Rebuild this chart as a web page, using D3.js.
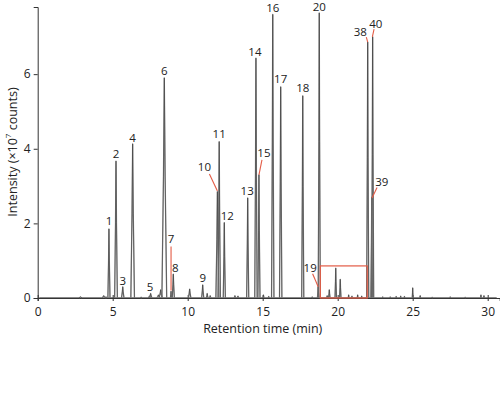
<!DOCTYPE html>
<html><head><meta charset="utf-8">
<script src="https://cdn.jsdelivr.net/npm/d3@7"></script>
<style>
html,body{margin:0;padding:0;background:#fff;}
svg{display:block;font-family:"Open Sans",sans-serif;}
</style></head>
<body>
<svg id="chart" width="500" height="402"></svg>
<script>
// ---- data ----
const peakTimes =   [2.85,4.40,4.55,4.75,5.22,5.67,6.33,6.90,7.45,7.53,8.05,8.20,8.44,8.89,9.04,10.13,11.00,11.30,11.50,11.98,12.10,12.44,13.15,13.35,14.00,14.55,14.75,15.05,15.40,15.67,16.20,17.67,18.30,18.70,18.77,19.30,19.44,19.87,20.17,20.73,20.95,21.33,21.60,22.00,22.27,22.33,23.00,23.50,23.90,24.20,24.45,25.00,25.50,26.30,27.50,28.50,29.55,29.75];
const peakHeights = [0.03,0.06,0.03,1.85,3.67,0.30,4.13,0.02,0.05,0.12,0.08,0.22,5.90,0.18,0.64,0.24,0.35,0.12,0.06,2.85,4.19,2.02,0.06,0.05,2.68,6.43,3.30,0.08,0.04,7.60,5.66,5.42,0.03,0.30,7.64,0.06,0.22,0.80,0.50,0.08,0.05,0.08,0.05,6.86,2.70,7.00,0.03,0.03,0.04,0.05,0.04,0.27,0.06,0.02,0.03,0.02,0.08,0.06];
const peakHalfWidths=[0.10,0.10,0.05,0.07,0.09,0.08,0.12,0.05,0.08,0.08,0.10,0.10,0.16,0.04,0.07,0.08,0.07,0.05,0.05,0.10,0.08,0.07,0.05,0.05,0.07,0.08,0.07,0.04,0.04,0.08,0.08,0.07,0.04,0.05,0.07,0.04,0.05,0.05,0.05,0.03,0.03,0.03,0.03,0.07,0.06,0.07,0.03,0.03,0.03,0.03,0.03,0.03,0.03,0.03,0.03,0.03,0.03,0.03];

// peak labels: number, anchor time, anchor intensity
const labelNumbers = ["1","2","3","4","5","6","7","8","9","10","11","12","13","14","15","16","17","18","19","20","38","40","39"];
const labelTimes   = [4.75,5.22,5.67,6.33,7.53,8.44,8.89,9.04,11.00,11.98,12.10,12.44,14.00,14.55,14.75,15.67,16.20,17.67,18.70,18.77,22.00,22.31,22.29];
const labelValues  = [1.85,3.67,0.30,4.13,0.12,5.90,0.20,0.64,0.35,2.87,4.19,2.02,2.68,6.43,3.30,7.60,5.66,5.42,0.30,7.64,6.86,7.00,2.68];
const leaderLabels = ["7","10","15","19","38","40","39"];

// highlighted region [tStart, tEnd, intensityTop]
const boxRange = [18.84, 21.97, 0.86];

const xTicks = [0,5,10,15,20,25,30];
const yTicks = [0,2,4,6];
const xTitle = "Retention time (min)";

// ---- layout ----
const svg = d3.select("#chart");
const x = d3.scaleLinear().domain([0, 30.8]).range([37.7, 499.7]);
const y = d3.scaleLinear().domain([0, 7.8]).range([298, 7]);
const red = "#e35b45";
const font = '"Open Sans", sans-serif';

// label offsets (px) relative to anchor: [labelDx, labelDy, lineStartDx, lineStartDy]
const layout = {
  "7":  [0, -52, 0, -44],
  "10": [-13, -24, -8, -17],
  "15": [5, -22, 3, -15],
  "19": [-8, -19, -5.6, -13],
  "38": [-7.4, -11, -1.4, -5],
  "40": [3.4, -13, 1.7, -7.7],
  "39": [9.7, -16.5, 5, -10.5],
  "3": [0,-6], "5":[-0.5,-7], "9":[0,-7], "8":[2,-7], "12":[3,-7.5], "13":[-0.5,-8], "14":[-1,-7],
  "4": [0,-6.5], "6":[0,-7], "16":[0,-7], "20":[0,-6]
};

// axes
const xAxis = d3.axisBottom(x).tickValues(xTicks).tickFormat(d3.format("d")).tickSize(3).tickPadding(6.5);
const gx = svg.append("g").attr("transform", `translate(0,${y(0)})`).call(xAxis);
gx.selectAll(".tick line").attr("y1", -3).attr("y2", 3);
const yAxis = d3.axisLeft(y).tickValues(yTicks).tickSize(4).tickPadding(3);
const gy = svg.append("g").attr("transform", `translate(${x(0)},0)`).call(yAxis);
[gx, gy].forEach(g => {
  g.select(".domain").attr("stroke", "#333").attr("stroke-width", 1);
  g.selectAll(".tick line").attr("stroke", "#333");
  g.selectAll(".tick text").attr("font-family", font).attr("font-size", 12).attr("fill", "#222");
});

// trace
const line = d3.line().x(d => x(d[0])).y(d => y(d[1]));
const traceG = svg.append("g");
traceG.append("path")
  .attr("d", line([[0.1, 0.01], [30.6, 0.01]]))
  .attr("fill", "none").attr("stroke", "#555").attr("stroke-width", 0.8);
peakTimes.forEach((t, i) => {
  const h = peakHeights[i], w = peakHalfWidths[i];
  const pts = [[t - w, 0.01], [t - w * 0.35, h * 0.55], [t, h], [t + w * 0.35, h * 0.55], [t + w, 0.01]];
  traceG.append("path").attr("d", line(pts))
    .attr("fill", "none").attr("stroke", "#8c8c8c").attr("stroke-width", 1.3).attr("stroke-linejoin", "round");
  traceG.append("path").attr("d", line(pts))
    .attr("fill", "none").attr("stroke", "#333").attr("stroke-width", 0.5).attr("stroke-linejoin", "round");
});

// highlight box
svg.append("rect")
  .attr("x", x(boxRange[0])).attr("y", y(boxRange[2]))
  .attr("width", x(boxRange[1]) - x(boxRange[0])).attr("height", y(0) - y(boxRange[2]))
  .attr("fill", "none").attr("stroke", red).attr("stroke-width", 1.2);

// labels
const lg = svg.append("g");
labelNumbers.forEach((n, i) => {
  const ax = x(labelTimes[i]), ay = y(labelValues[i]);
  const off = layout[n] || [0, -8];
  if (leaderLabels.includes(n)) {
    lg.append("line")
      .attr("x1", ax + off[2]).attr("y1", ay + off[3])
      .attr("x2", ax).attr("y2", ay)
      .attr("stroke", red).attr("stroke-width", 1.1);
  }
  lg.append("text")
    .attr("x", ax + off[0]).attr("y", ay + off[1])
    .attr("text-anchor", "middle").attr("dominant-baseline", "central")
    .attr("font-family", font).attr("font-size", 11.5).attr("fill", "#222")
    .text(n);
});

// axis titles
svg.append("text")
  .attr("x", x(15)).attr("y", 328)
  .attr("text-anchor", "middle").attr("dominant-baseline", "central")
  .attr("font-family", font).attr("font-size", 12.5).attr("fill", "#222")
  .text(xTitle);
const yt = svg.append("text")
  .attr("transform", "translate(12,152) rotate(-90)")
  .attr("text-anchor", "middle").attr("dominant-baseline", "central")
  .attr("font-family", font).attr("font-size", 12.5).attr("fill", "#222");
yt.append("tspan").text("Intensity (×10");
yt.append("tspan").attr("font-size", 8).attr("dy", -5).text("7");
yt.append("tspan").attr("dy", 5).text(" counts)");
</script>
</body></html>
